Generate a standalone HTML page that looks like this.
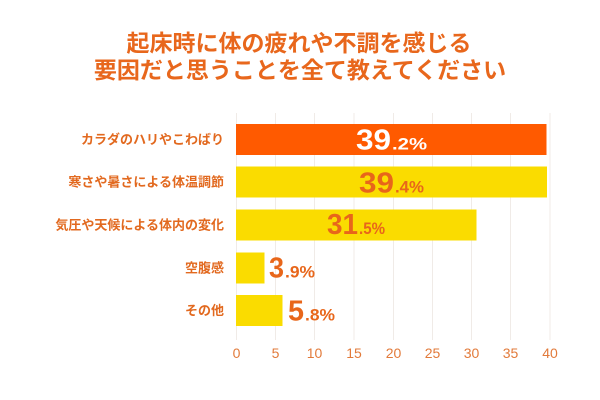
<!DOCTYPE html>
<html><head><meta charset="utf-8"><style>
html,body{margin:0;padding:0;background:#fff;}
svg{display:block;}
text{font-family:"Liberation Sans","Noto Sans CJK JP",sans-serif;}
</style></head><body>
<svg width="600" height="400" viewBox="0 0 600 400" xmlns="http://www.w3.org/2000/svg">
<rect width="600" height="400" fill="#ffffff"/>
<g font-weight="bold" font-size="23" fill="#E8671C" text-anchor="middle">
<text x="299" y="51">起床時に体の疲れや不調を感じる</text>
<text x="300" y="78">要因だと思うことを全て教えてください</text>
</g>
<g stroke="#F0EBE7" stroke-width="1">
<line x1="236.5" y1="113" x2="236.5" y2="340"/>
<line x1="275.5" y1="113" x2="275.5" y2="340"/>
<line x1="314.5" y1="113" x2="314.5" y2="340"/>
<line x1="354" y1="113" x2="354" y2="340"/>
<line x1="393.5" y1="113" x2="393.5" y2="340"/>
<line x1="432.5" y1="113" x2="432.5" y2="340"/>
<line x1="471.5" y1="113" x2="471.5" y2="340"/>
<line x1="510.5" y1="113" x2="510.5" y2="340"/>
<line x1="550" y1="113" x2="550" y2="340"/>
</g>
<rect x="236" y="124" width="310.5" height="31" fill="#FF5A00"/>
<rect x="236" y="166.5" width="311" height="31" fill="#FADC00"/>
<rect x="236" y="209.5" width="240.5" height="31" fill="#FADC00"/>
<rect x="236" y="252.5" width="28.5" height="31" fill="#FADC00"/>
<rect x="236" y="295" width="46.5" height="31" fill="#FADC00"/>
<g font-weight="bold" font-size="13" fill="#E2691F" text-anchor="end">
<text x="224" y="144">カラダのハリやこわばり</text>
<text x="224" y="186.5">寒さや暑さによる体温調節</text>
<text x="224" y="229.5">気圧や天候による体内の変化</text>
<text x="224" y="272.5">空腹感</text>
<text x="224" y="315">その他</text>
</g>
<g font-weight="bold">
<g fill="#ffffff">
<text x="356" y="149.5" font-size="29" textLength="35" lengthAdjust="spacingAndGlyphs">39</text>
<text x="392" y="149.5" font-size="17" textLength="35" lengthAdjust="spacingAndGlyphs">.2%</text>
</g>
<g fill="#E8661A">
<text x="359" y="192.3" font-size="29" textLength="35" lengthAdjust="spacingAndGlyphs">39</text>
<text x="395" y="192.3" font-size="17" textLength="29" lengthAdjust="spacingAndGlyphs">.4%</text>
<text x="327" y="234" font-size="29" textLength="31" lengthAdjust="spacingAndGlyphs">31</text>
<text x="359" y="234" font-size="17" textLength="26" lengthAdjust="spacingAndGlyphs">.5%</text>
<text x="269" y="277.3" font-size="29" textLength="15" lengthAdjust="spacingAndGlyphs">3</text>
<text x="285" y="277.3" font-size="17" textLength="30" lengthAdjust="spacingAndGlyphs">.9%</text>
<text x="288" y="320.7" font-size="29" textLength="16" lengthAdjust="spacingAndGlyphs">5</text>
<text x="305" y="320.7" font-size="17" textLength="30" lengthAdjust="spacingAndGlyphs">.8%</text>
</g>
</g>
<g font-size="14" fill="#E27A3A" text-anchor="middle">
<text x="236.5" y="358">0</text>
<text x="275.5" y="358">5</text>
<text x="314.5" y="358">10</text>
<text x="354" y="358">15</text>
<text x="393.5" y="358">20</text>
<text x="432.5" y="358">25</text>
<text x="471.5" y="358">30</text>
<text x="510.5" y="358">35</text>
<text x="550" y="358">40</text>
</g>
</svg>
</body></html>
